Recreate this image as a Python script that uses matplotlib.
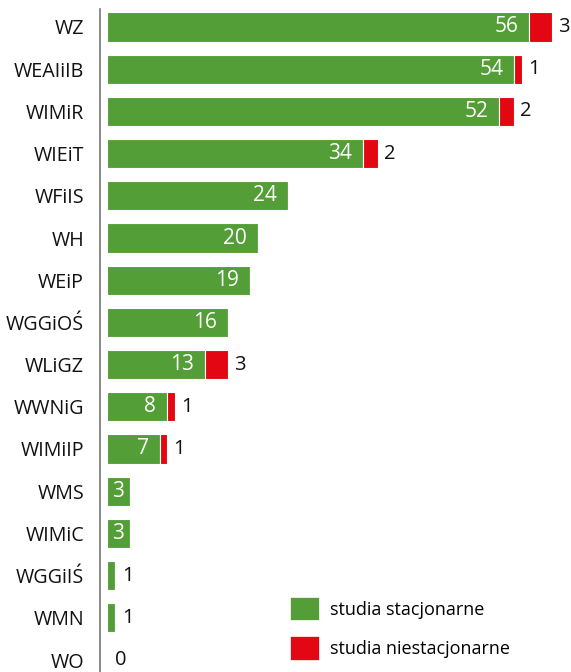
import matplotlib
matplotlib.use("Agg")
import matplotlib.pyplot as plt
from matplotlib.patches import Patch

categories = ["WZ", "WEAIiIB", "WIMiR", "WIEiT", "WFiIS", "WH", "WEiP", "WGGiOŚ",
              "WLiGZ", "WWNiG", "WIMiIP", "WMS", "WIMiC", "WGGiIŚ", "WMN", "WO"]
stacjonarne = [56, 54, 52, 34, 24, 20, 19, 16, 13, 8, 7, 3, 3, 1, 1, 0]
niestacjonarne = [3, 1, 2, 2, 0, 0, 0, 0, 3, 1, 1, 0, 0, 0, 0, 0]
legend_labels = ["studia stacjonarne", "studia niestacjonarne"]

GREEN = "#549E37"
RED = "#E30713"
FONT = "Open Sans"

W, H = 571, 672
fig = plt.figure(figsize=(W / 100, H / 100), dpi=100)
x0 = 107
ppu = 7.54
ax = fig.add_axes([x0 / W, 0, 1 - x0 / W, 1])
ax.set_xlim(0, (W - x0) / ppu)
row = 42.2
ax.set_ylim((H - 27) / row, -27 / row)

y = list(range(len(categories)))
bh = 0.69
ax.barh(y, stacjonarne, height=bh, color=GREEN, edgecolor="white", linewidth=0.8)
ax.barh(y, niestacjonarne, left=stacjonarne, height=bh, color=RED,
        edgecolor="white", linewidth=0.8)

for i, (s, n) in enumerate(zip(stacjonarne, niestacjonarne)):
    if s >= 3:
        if s * ppu > 40:
            ax.text(s - 11 / ppu, i, str(s), ha="right", va="center", color="white",
                    fontsize=15, family=FONT)
        else:
            ax.text(s / 2, i, str(s), ha="center", va="center", color="white",
                    fontsize=15, family=FONT)
    else:
        ax.text(s + 8 / ppu, i, str(s), ha="left", va="center", color="#111111",
                fontsize=14.5, family=FONT)
    if n > 0:
        ax.text(s + n + 6 / ppu, i, str(n), ha="left", va="center", color="#111111",
                fontsize=14.5, family=FONT)

for sp in ["top", "right", "bottom"]:
    ax.spines[sp].set_visible(False)
ax.spines["left"].set_position(("outward", 7 * 72 / 100))
ax.spines["left"].set_color("#777777")
ax.spines["left"].set_linewidth(1.2)
ax.spines["left"].set_bounds(-18 / row, (H - 27) / row)
ax.set_xticks([])
ax.set_yticks(y)
ax.set_yticklabels(categories, family=FONT, fontsize=14.2, color="#111111")
ax.tick_params(axis="y", length=0, pad=16 * 72 / 100)

handles = [Patch(facecolor=GREEN, edgecolor="white", linewidth=0.5),
           Patch(facecolor=RED, edgecolor="white", linewidth=0.5)]
fs = 13
fspx = fs * 100 / 72
fig.legend(handles, legend_labels, loc="upper left",
           bbox_to_anchor=(290 / W, 1 - 597 / H), bbox_transform=fig.transFigure,
           frameon=False, borderpad=0, borderaxespad=0,
           handlelength=29 / fspx, handleheight=29 / fspx,
           handletextpad=11 / fspx, labelspacing=16 / fspx,
           prop={"family": FONT, "size": fs})

fig.savefig("out.png", dpi=100)
